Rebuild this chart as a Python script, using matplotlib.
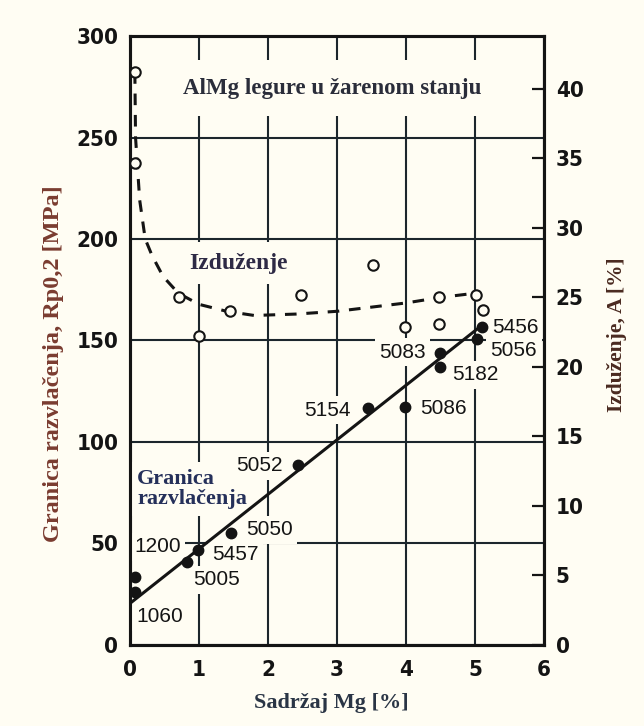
import matplotlib
matplotlib.use('Agg')
import matplotlib.pyplot as plt
from matplotlib import font_manager

# --- data ---
# yield strength Rp0,2 (filled points), MPa
alloys = ['1060', '1200', '5005', '5457', '5050', '5052',
          '5154', '5086', '5182', '5083', '5056', '5456']
mg_pct = [0.07, 0.07, 0.82, 0.99, 1.46, 2.43, 3.45, 3.99, 4.49, 4.49, 5.03, 5.10]
rp02 = [26.1, 33.5, 40.9, 46.8, 55.2, 88.7, 116.7, 117.2, 137.0, 143.8, 150.7, 156.6]

# straight trend line through the yield strength points
rp_line_mg = [0.0, 5.1]
rp_line_val = [20.5, 157.5]

# elongation A (open points), %
elong_mg = [0.07, 0.07, 0.71, 1.00, 1.45, 2.48, 3.52, 3.99, 4.48, 4.48, 5.01, 5.12]
elong = [41.2, 34.7, 25.0, 22.2, 24.0, 25.2, 27.3, 22.9, 23.1, 25.0, 25.2, 24.1]

# dashed elongation trend
elong_curve_mg = [0.07, 0.08, 0.14, 0.22, 0.32, 0.48, 0.70, 1.00, 1.40, 1.80,
                  2.40, 3.00, 3.50, 4.00, 4.50, 5.00]
elong_curve = [41.2, 36.5, 32.0, 29.2, 28.0, 26.5, 25.3, 24.5, 24.0, 23.7,
               23.8, 24.0, 24.3, 24.6, 25.0, 25.3]

x_ticks = [0, 1, 2, 3, 4, 5, 6]
left_ticks = [0, 50, 100, 150, 200, 250, 300]
right_ticks = [0, 5, 10, 15, 20, 25, 30, 35, 40]

# label offsets from their point, in pixels (x right, y up)
label_offsets = {
    '1060': (25, -25), '1200': (23, 30), '5005': (30, -18), '5457': (37, -5),
    '5050': (39, 3), '5052': (-38, -1), '5154': (-41, -2), '5086': (38, -1),
    '5182': (35, -8), '5083': (-37, 1), '5056': (36, -11), '5456': (33, 0),
}

BG = '#fffdf3'
INK = '#141414'
DPI = 100

# look for a condensed bold face for the tick numbers
tick_fp = None
for f in font_manager.fontManager.ttflist:
    cond = 'narrow' in f.name.lower() or 'condensed' in f.name.lower() \
        or f.stretch in ('condensed', 'semi-condensed', 'extra-condensed', 600, 500)
    if cond and f.weight in ('bold', 700) and 'mono' not in f.name.lower():
        tick_fp = font_manager.FontProperties(fname=f.fname, size=16)
        break
if tick_fp is None:
    tick_fp = font_manager.FontProperties(family='Liberation Sans',
                                          weight='bold', size=14)
serif = 'Liberation Serif'
sans = 'Liberation Sans'

fig = plt.figure(figsize=(6.44, 7.26), dpi=DPI, facecolor=BG)
ax = fig.add_axes([0.2019, 0.1116, 0.6429, 0.8388])
ax.set_facecolor(BG)
ax.set_xlim(0, 6)
ax.set_ylim(0, 300)
ax.set_xticks(x_ticks)
ax.set_yticks(left_ticks)
ax.set_axisbelow(True)
ax.grid(True, color='#1c262c', lw=1.5)
ax.tick_params(axis='x', length=0, pad=11, colors=INK)
ax.tick_params(axis='y', length=0, pad=8.5, colors=INK)

ax2 = ax.twinx()
ax2.set_ylim(0, 43.8)
ax2.set_yticks(right_ticks)
ax2.tick_params(axis='y', direction='in', length=9, width=1.6, pad=8.5,
                colors=INK)

for a in (ax, ax2):
    for s in a.spines.values():
        s.set_linewidth(2.2)
        s.set_color(INK)
for lab in ax.get_xticklabels() + ax.get_yticklabels() + ax2.get_yticklabels():
    lab.set_fontproperties(tick_fp)

# yield strength
ax.plot(rp_line_mg, rp_line_val, color=INK, lw=2.2, zorder=4)
ax.plot(mg_pct, rp02, 'o', color=INK, ms=7.5, zorder=5)
for name, x, y in zip(alloys, mg_pct, rp02):
    dx, dy = label_offsets[name]
    ax.annotate(name, (x, y), xytext=(dx * 72 / DPI, dy * 72 / DPI),
                textcoords='offset points', ha='center', va='center',
                fontsize=15, family=sans, color=INK, zorder=3,
                bbox=dict(boxstyle='square,pad=0.2', fc=BG, ec='none'))

# elongation
ax2.plot(elong_curve_mg, elong_curve, color=INK, lw=2.2, dashes=(3.8, 3.2),
         zorder=3)
ax2.plot(elong_mg, elong, 'o', mfc=BG, mec=INK, mew=1.5, ms=7.5, zorder=4)

# texts inside the plot
ax.text(0.488, 0.9146, 'AlMg legure u žarenom stanju', transform=ax.transAxes,
        ha='center', va='center', family=serif, fontweight='bold',
        fontsize=16.5, color='#2a2d3a', zorder=3,
        bbox=dict(boxstyle='square,pad=0.75', fc=BG, ec='none'))
ax.text(0.261, 0.627, 'Izduženje', transform=ax.transAxes,
        ha='center', va='center', family=serif, fontweight='bold',
        fontsize=17, color='#2e2a45', zorder=3,
        bbox=dict(boxstyle='square,pad=0.45', fc=BG, ec='none'))
ax.text(0.017, 0.256, 'Granica\nrazvlačenja', transform=ax.transAxes,
        ha='left', va='center', family=serif, fontweight='bold',
        fontsize=16, color='#25305a', linespacing=1.0, zorder=2.8,
        bbox=dict(boxstyle='square,pad=0.3', fc=BG, ec='none'))

# axis titles
fig.text(0.0823, 0.4986, 'Granica razvlačenja, Rp0,2 [MPa]', rotation=90,
         ha='center', va='center', family=serif, fontweight='bold',
         fontsize=17.5, color='#7a3c30')
fig.text(0.958, 0.5386, 'Izduženje, A [%]', rotation=90,
         ha='center', va='center', family=serif, fontweight='bold',
         fontsize=15.5, color='#4a2a20')
fig.text(0.514, 0.0317, 'Sadržaj Mg [%]', ha='center', va='center',
         family=serif, fontweight='bold', fontsize=16, color='#2a3545')

fig.savefig('out.png', dpi=DPI, facecolor=BG)
